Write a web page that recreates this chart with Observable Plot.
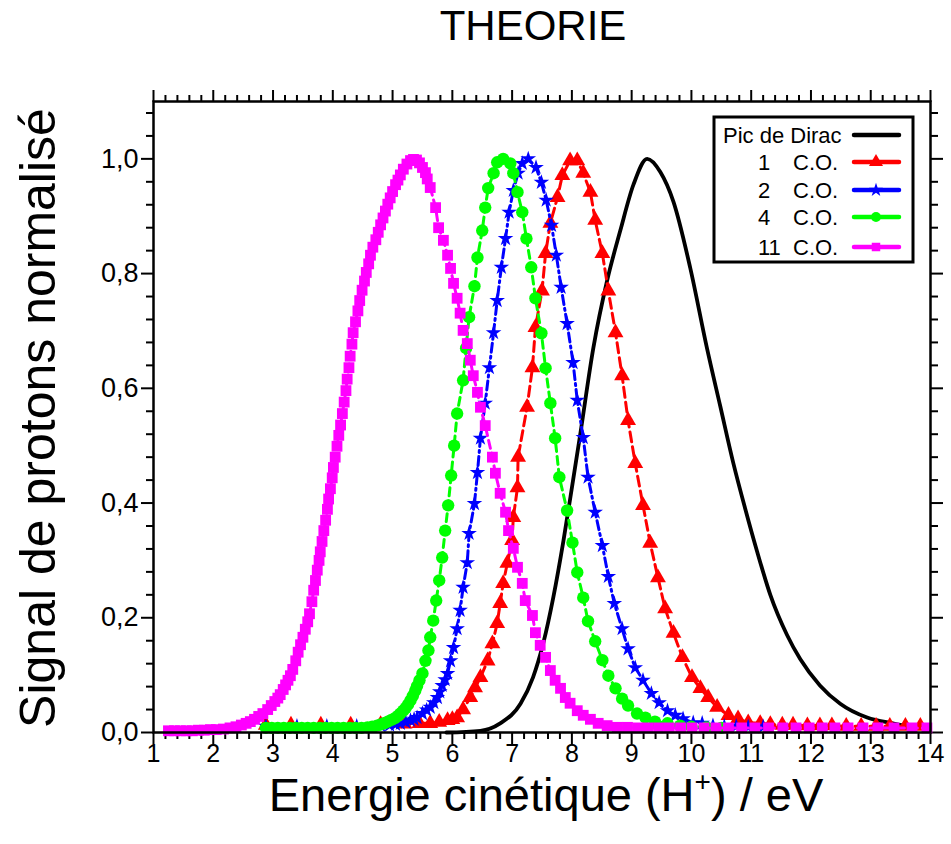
<!DOCTYPE html>
<html>
<head>
<meta charset="utf-8">
<script src="https://cdn.jsdelivr.net/npm/d3@7"></script>
<script src="https://cdn.jsdelivr.net/npm/@observablehq/plot@0.6"></script>
<style>
  html, body { margin: 0; padding: 0; background: #fff; }
  #chart { width: 951px; height: 844px; position: relative; }
  svg { font-family: "Liberation Sans", Arial, sans-serif; }
</style>
</head>
<body>
<div id="chart"></div>
<script>
// ---------- data ----------
const chartTitle = "THEORIE";
const xTitle = "Energie cinétique (H";
const yTitle = "Signal de protons normalisé";

const xTickValues = [1,2,3,4,5,6,7,8,9,10,11,12,13,14];
const yTickValues = [0, 0.2, 0.4, 0.6, 0.8, 1.0];
const yTickLabels = ["0,0","0,2","0,4","0,6","0,8","1,0"];

const seriesNames = ["Pic de Dirac", "1", "2", "4", "11"];
const seriesColors = ["#000000", "#ff0000", "#0000ff", "#00ff00", "#ff00ff"];

// Pic de Dirac (solid black line)
const diracE = [5.9, 6.47, 6.80, 7.14, 7.35, 7.52, 7.69, 7.86, 8.02, 8.14, 8.36, 8.59, 8.81, 9.03, 9.26, 9.48, 9.70, 9.98, 10.26, 10.48, 10.70, 10.90, 11.10, 11.32, 11.60, 11.82, 12.15, 12.49, 12.94, 13.37, 13.71, 13.94];
const diracY = [0.0, 0.003, 0.016, 0.05, 0.096, 0.155, 0.236, 0.335, 0.44, 0.52, 0.671, 0.788, 0.875, 0.955, 1.0, 0.977, 0.925, 0.81, 0.67, 0.57, 0.47, 0.39, 0.315, 0.24, 0.17, 0.128, 0.082, 0.05, 0.026, 0.016, 0.010, 0.008];

// 1 C.O. (red triangles)
const co1E = [2.88, 3.3, 3.8, 4.3, 4.8, 5.2, 5.45, 5.63, 5.78, 5.92, 6.0, 6.08, 6.18, 6.30, 6.38, 6.47, 6.59, 6.67, 6.75, 6.80, 6.85, 6.92, 7.00, 7.02, 7.09, 7.10, 7.25, 7.34, 7.39, 7.50, 7.56, 7.64, 7.76, 7.84, 7.97, 8.09, 8.19, 8.31, 8.39, 8.51, 8.61, 8.73, 8.84, 8.94, 9.06, 9.19, 9.31, 9.44, 9.56, 9.70, 9.85, 10.01, 10.15, 10.28, 10.43, 10.62, 10.78, 10.95, 11.15, 11.32, 11.52, 11.70, 11.94, 12.15, 12.35, 12.59, 12.84, 13.09, 13.32, 13.58, 13.83];
const co1Y = [0.013, 0.013, 0.013, 0.013, 0.014, 0.015, 0.016, 0.016, 0.018, 0.021, 0.023, 0.026, 0.04, 0.061, 0.078, 0.096, 0.125, 0.155, 0.19, 0.225, 0.26, 0.295, 0.335, 0.375, 0.427, 0.48, 0.567, 0.636, 0.706, 0.77, 0.835, 0.888, 0.933, 0.971, 0.997, 0.997, 0.975, 0.942, 0.893, 0.835, 0.77, 0.697, 0.622, 0.544, 0.469, 0.396, 0.33, 0.27, 0.216, 0.173, 0.131, 0.096, 0.077, 0.061, 0.044, 0.03, 0.024, 0.017, 0.016, 0.014, 0.013, 0.013, 0.012, 0.012, 0.012, 0.011, 0.011, 0.011, 0.011, 0.011, 0.011];

// 2 C.O. (blue stars)
const co2E = [2.88, 3.4, 3.9, 4.4, 4.8, 4.95, 5.05, 5.13, 5.22, 5.3, 5.36, 5.41, 5.5, 5.57, 5.63, 5.69, 5.75, 5.79, 5.83, 5.88, 5.92, 5.97, 6.02, 6.08, 6.13, 6.18, 6.25, 6.28, 6.37, 6.42, 6.47, 6.55, 6.62, 6.69, 6.75, 6.82, 6.89, 6.95, 7.02, 7.10, 7.17, 7.27, 7.40, 7.49, 7.57, 7.66, 7.74, 7.82, 7.92, 8.02, 8.09, 8.19, 8.27, 8.39, 8.51, 8.61, 8.71, 8.84, 8.94, 9.06, 9.19, 9.33, 9.46, 9.60, 9.73, 9.86, 10.03, 10.18, 10.36, 10.55, 10.75, 10.95, 11.2];
const co2Y = [0.011, 0.011, 0.011, 0.011, 0.012, 0.013, 0.014, 0.016, 0.018, 0.021, 0.023, 0.026, 0.033, 0.039, 0.044, 0.052, 0.061, 0.071, 0.082, 0.092, 0.103, 0.125, 0.148, 0.181, 0.213, 0.253, 0.296, 0.347, 0.399, 0.453, 0.513, 0.574, 0.636, 0.697, 0.753, 0.811, 0.861, 0.907, 0.945, 0.975, 0.992, 1.0, 0.985, 0.959, 0.928, 0.884, 0.832, 0.776, 0.713, 0.645, 0.579, 0.514, 0.445, 0.384, 0.326, 0.272, 0.225, 0.181, 0.146, 0.113, 0.091, 0.068, 0.052, 0.038, 0.03, 0.024, 0.017, 0.016, 0.012, 0.011, 0.011, 0.01, 0.01];

// 4 C.O. (green circles)
const co4E = [2.88, 2.98, 3.08, 3.18, 3.28, 3.38, 3.48, 3.58, 3.68, 3.78, 3.88, 3.98, 4.08, 4.18, 4.28, 4.38, 4.48, 4.58, 4.66, 4.74, 4.80, 4.86, 4.92, 4.98, 5.04, 5.09, 5.13, 5.18, 5.22, 5.26, 5.30, 5.34, 5.38, 5.41, 5.45, 5.50, 5.55, 5.60, 5.63, 5.68, 5.73, 5.78, 5.83, 5.88, 5.93, 5.98, 6.03, 6.08, 6.18, 6.23, 6.28, 6.37, 6.42, 6.50, 6.55, 6.60, 6.69, 6.75, 6.85, 6.97, 7.02, 7.09, 7.17, 7.24, 7.32, 7.39, 7.49, 7.56, 7.64, 7.72, 7.79, 7.92, 8.01, 8.09, 8.19, 8.27, 8.39, 8.51, 8.61, 8.73, 8.84, 8.94, 9.09, 9.23, 9.39, 9.60, 9.81, 10.0, 10.25, 10.5];
const co4Y = [0.008, 0.008, 0.008, 0.008, 0.008, 0.008, 0.008, 0.008, 0.008, 0.008, 0.008, 0.008, 0.008, 0.008, 0.008, 0.008, 0.008, 0.009, 0.010, 0.012, 0.014, 0.016, 0.019, 0.022, 0.025, 0.029, 0.033, 0.038, 0.043, 0.049, 0.056, 0.064, 0.073, 0.081, 0.091, 0.103, 0.125, 0.143, 0.166, 0.195, 0.23, 0.265, 0.305, 0.352, 0.396, 0.448, 0.50, 0.556, 0.614, 0.67, 0.724, 0.778, 0.828, 0.875, 0.915, 0.949, 0.975, 0.994, 1.0, 0.992, 0.975, 0.942, 0.907, 0.861, 0.811, 0.757, 0.696, 0.635, 0.574, 0.513, 0.445, 0.387, 0.331, 0.279, 0.235, 0.194, 0.159, 0.126, 0.099, 0.077, 0.059, 0.047, 0.033, 0.026, 0.019, 0.016, 0.012, 0.010, 0.009, 0.008];

// 11 C.O. (magenta squares)
const co11E = [1.25, 1.35, 1.45, 1.55, 1.65, 1.75, 1.85, 1.95, 2.05, 2.17, 2.28, 2.38, 2.47, 2.55, 2.62, 2.69, 2.76, 2.83, 2.91, 2.97, 3.03, 3.08, 3.12, 3.17, 3.21, 3.25, 3.29, 3.33, 3.38, 3.42, 3.46, 3.50, 3.54, 3.58, 3.61, 3.65, 3.68, 3.71, 3.74, 3.77, 3.79, 3.82, 3.85, 3.88, 3.91, 3.93, 3.96, 3.99, 4.01, 4.04, 4.07, 4.10, 4.13, 4.16, 4.19, 4.22, 4.24, 4.27, 4.29, 4.32, 4.34, 4.38, 4.42, 4.45, 4.49, 4.53, 4.56, 4.60, 4.63, 4.67, 4.72, 4.76, 4.80, 4.84, 4.88, 4.92, 4.96, 5.00, 5.05, 5.09, 5.13, 5.18, 5.24, 5.30, 5.35, 5.40, 5.45, 5.50, 5.55, 5.58, 5.63, 5.72, 5.77, 5.85, 5.92, 5.97, 6.02, 6.08, 6.13, 6.18, 6.25, 6.30, 6.35, 6.42, 6.47, 6.55, 6.67, 6.72, 6.80, 6.89, 6.94, 7.02, 7.09, 7.17, 7.22, 7.34, 7.39, 7.47, 7.56, 7.64, 7.72, 7.81, 7.89, 7.97, 8.09, 8.19, 8.31, 8.44, 8.59, 8.76, 8.93, 9.10, 9.27, 9.45, 9.63, 9.82, 10.01, 10.21, 10.41, 10.62, 10.84, 11.06, 11.29, 11.53, 11.75, 11.97, 12.19, 12.40, 12.62, 12.87, 13.12, 13.39, 13.69, 13.94];
const co11Y = [0.003, 0.003, 0.003, 0.003, 0.003, 0.004, 0.004, 0.005, 0.005, 0.006, 0.008, 0.010, 0.013, 0.016, 0.019, 0.023, 0.028, 0.033, 0.04, 0.047, 0.054, 0.06, 0.066, 0.075, 0.083, 0.091, 0.099, 0.11, 0.125, 0.14, 0.153, 0.166, 0.18, 0.193, 0.207, 0.228, 0.248, 0.265, 0.283, 0.30, 0.315, 0.333, 0.352, 0.37, 0.389, 0.407, 0.425, 0.444, 0.462, 0.48, 0.499, 0.518, 0.536, 0.556, 0.576, 0.596, 0.616, 0.636, 0.656, 0.677, 0.697, 0.716, 0.735, 0.753, 0.771, 0.787, 0.802, 0.817, 0.832, 0.846, 0.859, 0.872, 0.885, 0.897, 0.909, 0.921, 0.932, 0.943, 0.955, 0.963, 0.972, 0.982, 0.991, 0.997, 0.999, 0.998, 0.993, 0.985, 0.976, 0.965, 0.95, 0.915, 0.88, 0.858, 0.832, 0.809, 0.783, 0.757, 0.731, 0.701, 0.678, 0.649, 0.622, 0.593, 0.567, 0.535, 0.48, 0.452, 0.417, 0.384, 0.352, 0.321, 0.288, 0.26, 0.23, 0.204, 0.174, 0.152, 0.131, 0.108, 0.091, 0.077, 0.061, 0.051, 0.038, 0.03, 0.023, 0.016, 0.012, 0.009, 0.009, 0.008, 0.008, 0.008, 0.008, 0.008, 0.008, 0.008, 0.008, 0.008, 0.008, 0.008, 0.008, 0.008, 0.008, 0.008, 0.008, 0.008, 0.008, 0.008, 0.008, 0.008, 0.008, 0.008];

// ---------- build tables ----------
const toRows = (E, Y) => E.map((e, i) => ({E: e, v: Y[i]}));
const dirac = toRows(diracE, diracY);
const co1 = toRows(co1E, co1Y);
const co2 = toRows(co2E, co2Y);
const co4 = toRows(co4E, co4Y);
const co11 = toRows(co11E, co11Y);

const xMinor = d3.range(1, 14.001, 0.2).map(d => +d.toFixed(2)).filter(d => !xTickValues.includes(d));
const yMinor = d3.range(0, 1.1001, 0.04).map(d => +d.toFixed(2)).filter(d => !yTickValues.includes(d));

const fontFam = "'Liberation Sans', Arial, sans-serif";
const tickFont = 25;
const R = {tri: 5.9, star: 4.9, circ: 6.2, sq: 6.1};

const plot = Plot.plot({
  width: 951,
  height: 844,
  marginLeft: 153,
  marginRight: 21,
  marginTop: 101,
  marginBottom: 112,
  x: {domain: [1, 14]},
  y: {domain: [0, 1.1]},
  style: {fontFamily: fontFam, background: "white", color: "black"},
  marks: [
    // bottom axis
    Plot.axisX({anchor: "bottom", ticks: xMinor, tickSize: 7, strokeWidth: 2, fill: "none", label: null}),
    Plot.axisX({anchor: "bottom", ticks: xTickValues, tickSize: 12, strokeWidth: 2, tickPadding: 0, fontSize: tickFont, tickFormat: d => String(d), label: null}),
    // top axis
    Plot.axisX({anchor: "top", ticks: xMinor, tickSize: 7, strokeWidth: 2, fill: "none", label: null}),
    Plot.axisX({anchor: "top", ticks: xTickValues, tickSize: 12, strokeWidth: 2, fill: "none", label: null}),
    // left axis
    Plot.axisY({anchor: "left", ticks: yMinor, tickSize: 7, strokeWidth: 2, fill: "none", label: null}),
    Plot.axisY({anchor: "left", ticks: yTickValues, tickSize: 12, strokeWidth: 2, tickPadding: 3, fontSize: 27, tickFormat: d => yTickLabels[yTickValues.indexOf(d)], label: null}),
    // right axis
    Plot.axisY({anchor: "right", ticks: yMinor, tickSize: 7, strokeWidth: 2, fill: "none", label: null}),
    Plot.axisY({anchor: "right", ticks: yTickValues, tickSize: 12, strokeWidth: 2, fill: "none", label: null}),

    // data
    Plot.line(dirac, {x: "E", y: "v", stroke: seriesColors[0], strokeWidth: 3.8, curve: "monotone-x"}),

    Plot.line(co1, {x: "E", y: "v", stroke: seriesColors[1], strokeWidth: 3, strokeDasharray: "10,5"}),
    Plot.dot(co1, {x: "E", y: "v", symbol: "triangle", r: R.tri, fill: seriesColors[1]}),

    Plot.line(co2, {x: "E", y: "v", stroke: seriesColors[2], strokeWidth: 3, strokeDasharray: "9,4,2,4"}),
    Plot.dot(co2, {x: "E", y: "v", symbol: "star", r: R.star, fill: seriesColors[2]}),

    Plot.line(co4, {x: "E", y: "v", stroke: seriesColors[3], strokeWidth: 3, strokeDasharray: "8,5"}),
    Plot.dot(co4, {x: "E", y: "v", symbol: "circle", r: R.circ, fill: seriesColors[3]}),

    Plot.line(co11, {x: "E", y: "v", stroke: seriesColors[4], strokeWidth: 3, strokeDasharray: "8,5"}),
    Plot.dot(co11, {x: "E", y: "v", symbol: "square", r: R.sq, fill: seriesColors[4]}),

    Plot.frame({stroke: "black", strokeWidth: 2.5})
  ]
});

document.getElementById("chart").appendChild(plot);

// ---------- titles ----------
const svg = d3.select(plot);
svg.append("text")
  .attr("x", 533).attr("y", 40)
  .attr("text-anchor", "middle")
  .attr("font-size", 42)
  .attr("font-family", fontFam)
  .attr("fill", "black")
  .text(chartTitle);

svg.append("text")
  .attr("transform", "translate(55,418) rotate(-90)")
  .attr("text-anchor", "middle")
  .attr("font-size", 50)
  .attr("font-family", fontFam)
  .attr("fill", "black")
  .text(yTitle);

const xt = svg.append("text")
  .attr("x", 546).attr("y", 811)
  .attr("text-anchor", "middle")
  .attr("font-size", 47)
  .attr("font-family", fontFam)
  .attr("fill", "black");
xt.append("tspan").text(xTitle);
xt.append("tspan").attr("font-size", 28).attr("dy", -20).text("+");
xt.append("tspan").attr("dy", 20).text(") / eV");

// ---------- legend ----------
const lg = svg.append("g").attr("text-anchor", "start");
lg.append("rect")
  .attr("x", 714).attr("y", 117).attr("width", 199).attr("height", 145)
  .attr("fill", "white").attr("stroke", "black").attr("stroke-width", 3);
const rowY = [135, 162, 190, 217, 247];
const symbols = [null, d3.symbolTriangle, d3.symbolStar, d3.symbolCircle, d3.symbolSquare];
const symR = [0, 5.2, 4.4, 5.0, 4.8];
seriesNames.forEach((name, i) => {
  const y = rowY[i];
  const t = (x, s) => lg.append("text").attr("x", x).attr("y", y + 8)
    .attr("text-anchor", "start").attr("font-size", 22)
    .attr("font-family", fontFam).attr("fill", "black").text(s);
  if (i === 0) {
    t(723, name);
  } else {
    t(758, name);
    t(793, "C.O.");
  }
  lg.append("line").attr("x1", 854).attr("x2", 899).attr("y1", y).attr("y2", y)
    .attr("stroke", seriesColors[i]).attr("stroke-width", 4.5).attr("stroke-linecap", "round");
  if (symbols[i]) {
    lg.append("path").attr("transform", `translate(876,${y})`)
      .attr("d", d3.symbol(symbols[i], Math.PI * symR[i] * symR[i])())
      .attr("fill", seriesColors[i]);
  }
});
</script>
</body>
</html>
